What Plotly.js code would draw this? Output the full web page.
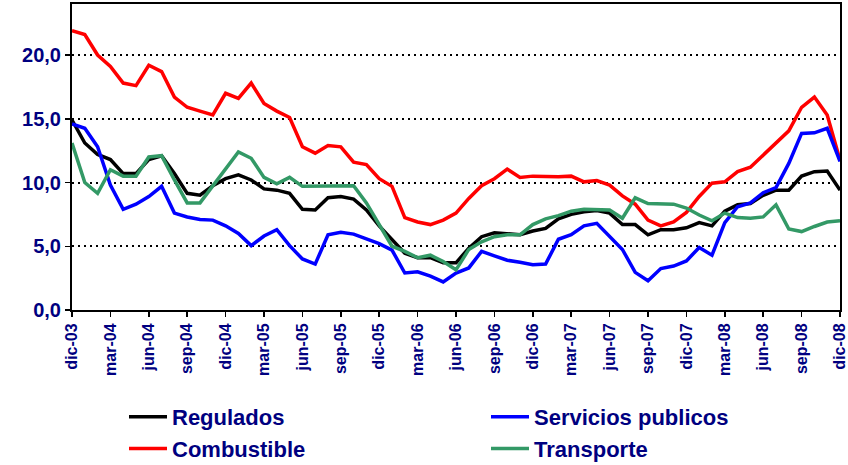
<!DOCTYPE html>
<html>
<head>
<meta charset="utf-8">
<script src="https://cdn.plot.ly/plotly-3.0.1.min.js"></script>
<style>html,body{margin:0;padding:0;background:#fff;}#chart{width:848px;height:465px;}</style>
</head>
<body>
<div id="chart"></div>
<script>
var monthNames = ["ene","feb","mar","abr","may","jun","jul","ago","sep","oct","nov","dic"];
var months = ["dic-03"];
for (var yr = 4; yr <= 8; yr++) {
  for (var m = 0; m < 12; m++) months.push(monthNames[m] + "-0" + yr);
}
var tickLabels = ["dic-03","mar-04","jun-04","sep-04","dic-04","mar-05","jun-05","sep-05","dic-05","mar-06","jun-06","sep-06","dic-06","mar-07","jun-07","sep-07","dic-07","mar-08","jun-08","sep-08","dic-08"];

var regulados = [14.9,13.1,12.2,11.8,10.7,10.7,11.8,12.1,10.7,9.15,9.0,9.75,10.3,10.6,10.2,9.5,
  9.4,9.15,7.9,7.85,8.8,8.9,8.7,7.85,6.6,5.5,4.45,4.1,4.1,3.7,3.7,
  4.85,5.75,6.05,6.0,5.9,6.2,6.4,7.15,7.5,7.7,7.8,7.6,6.7,6.7,5.9,
  6.3,6.3,6.45,6.85,6.6,7.75,8.25,8.35,9.0,9.4,9.4,10.5,10.85,10.9,9.4];
var combustible = [21.9,21.6,20.0,19.1,17.8,17.6,19.2,18.7,16.7,15.9,15.6,15.3,17.0,16.6,17.8,16.2,
  15.6,15.1,12.8,12.3,12.9,12.8,11.6,11.4,10.3,9.7,7.25,6.9,6.7,7.05,7.6,
  8.75,9.75,10.3,11.05,10.4,10.5,10.45,10.45,10.5,10.05,10.15,9.8,8.95,8.3,7.05,
  6.6,6.9,7.65,8.9,9.95,10.05,10.85,11.2,12.15,13.15,14.05,15.9,16.7,15.3,11.75];
var servicios = [14.6,14.25,12.8,9.8,7.9,8.3,8.9,9.7,7.6,7.3,7.1,7.05,6.6,6.0,5.05,5.8,
  6.3,5.05,4.0,3.6,5.9,6.1,5.95,5.6,5.2,4.7,2.9,3.0,2.65,2.2,2.9,
  3.3,4.6,4.25,3.9,3.75,3.55,3.6,5.55,5.9,6.6,6.8,5.8,4.75,2.95,2.3,
  3.25,3.45,3.85,4.9,4.3,6.85,8.1,8.4,9.2,9.6,11.5,13.85,13.9,14.25,11.65];
var transporte = [13.1,10.0,9.15,11.0,10.5,10.5,12.0,12.1,10.2,8.4,8.4,9.7,11.1,12.4,11.9,10.4,
  9.9,10.4,9.7,9.7,9.75,9.75,9.75,8.4,6.7,5.0,4.6,4.1,4.3,3.8,3.15,
  4.75,5.35,5.75,5.9,5.9,6.7,7.15,7.4,7.75,7.9,7.9,7.85,7.2,8.8,8.35,
  8.35,8.3,8.0,7.45,7.0,7.6,7.25,7.2,7.3,8.25,6.35,6.15,6.55,6.9,7.0];

var LW = 3.5;
var traces = [
  {x: months, y: combustible, name: "Combustible", type: "scatter", mode: "lines",
   line: {color: "#FF0000", width: LW}, legend: "legend", legendgroup: "c", legendrank: 2},
  {x: months, y: regulados, name: "Regulados", type: "scatter", mode: "lines",
   line: {color: "#000000", width: LW}, legend: "legend", legendgroup: "r", legendrank: 1},
  {x: months, y: servicios, name: "Servicios publicos", type: "scatter", mode: "lines",
   line: {color: "#0000FF", width: LW}, legend: "legend2", legendgroup: "s", legendrank: 1},
  {x: months, y: transporte, name: "Transporte", type: "scatter", mode: "lines",
   line: {color: "#339966", width: LW}, legend: "legend2", legendgroup: "t", legendrank: 2}
];

var navy = "#000080";
var legFont = {family: "Liberation Sans, Arial, sans-serif", size: 22, color: navy, weight: "bold"};
var layout = {
  width: 848, height: 465,
  margin: {l: 72, r: 8, t: 4, b: 155, autoexpand: false},
  paper_bgcolor: "#ffffff", plot_bgcolor: "#ffffff",
  showlegend: true,
  xaxis: {
    type: "category", range: [0, 60],
    tickmode: "array", tickvals: tickLabels, ticktext: tickLabels,
    tickangle: -90, ticks: "outside", ticklen: 5, tickwidth: 1.5, tickcolor: "#000",
    showline: true, linecolor: "#000", linewidth: 2, mirror: true,
    showgrid: false, zeroline: false, automargin: false,
    tickfont: {family: "Liberation Sans, Arial, sans-serif", size: 16, color: navy, weight: "bold"}
  },
  yaxis: {
    range: [0, 24], tick0: 0, dtick: 5, tickformat: ".1f",
    ticks: "outside", ticklen: 5, tickwidth: 1.5, tickcolor: "#000",
    showline: true, linecolor: "#000", linewidth: 2, mirror: true,
    showgrid: true, gridcolor: "#000", gridwidth: 2, griddash: "2px,4px",
    zeroline: false, automargin: false,
    tickfont: {family: "Liberation Sans, Arial, sans-serif", size: 20, color: navy, weight: "bold"}
  },
  separators: ",.",
  legend: {
    orientation: "v", x: (124 - 72) / 768, xanchor: "left", y: -0.281, yanchor: "top",
    font: legFont, tracegroupgap: 0, itemwidth: 38, bgcolor: "rgba(0,0,0,0)"
  },
  legend2: {
    orientation: "v", x: (486 - 72) / 768, xanchor: "left", y: -0.281, yanchor: "top",
    font: legFont, tracegroupgap: 0, itemwidth: 38, bgcolor: "rgba(0,0,0,0)"
  }
};

Plotly.newPlot("chart", traces, layout, {displayModeBar: false, staticPlot: true});
</script>
</body>
</html>
